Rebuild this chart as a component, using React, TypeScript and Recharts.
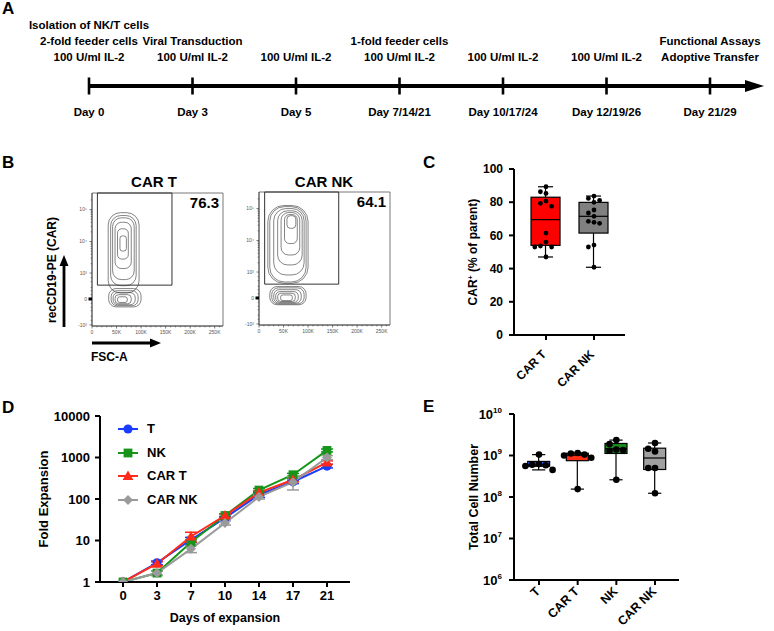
import React from "react";
import {
  ComposedChart,
  LineChart,
  Line,
  Bar,
  Scatter,
  XAxis,
  YAxis,
  ReferenceArea,
  ErrorBar,
  Legend,
  Label,
} from "recharts";

const FONT = '"Liberation Sans", Arial, Helvetica, sans-serif';
const AX = { stroke: "#000", strokeWidth: 2 };

// ---------- A: timeline ----------
const TIMELINE_DAYS = ["Day 0", "Day 3", "Day 5", "Day 7/14/21", "Day 10/17/24", "Day 12/19/26", "Day 21/29"];
const TIMELINE_NOTES = [
  ["Isolation of NK/T cells", "2-fold feeder cells", "100 U/ml IL-2"],
  ["Viral Transduction", "100 U/ml IL-2"],
  ["100 U/ml IL-2"],
  ["1-fold feeder cells", "100 U/ml IL-2"],
  ["100 U/ml IL-2"],
  ["100 U/ml IL-2"],
  ["Functional Assays", "Adoptive Transfer"],
];

// ---------- B: flow plots ----------
const FLOW_TITLES = ["CAR T", "CAR NK"];
const FLOW_PERCENT = ["76.3", "64.1"];
// fsc low, fsc high, PE low (gate runs to the top of the plot)
const FLOW_GATES = [
  [11000, 163000, 370],
  [11500, 162500, 370],
];
// contour levels: fsc low, fsc high, PE low, PE high
const CART_CONTOURS = [
  [33000, 96000, 140, 80000],
  [38000, 90000, 350, 65000],
  [42000, 86000, 600, 55000],
  [47000, 80000, 1400, 40000],
  [52000, 74000, 2800, 25000],
  [57000, 70000, 5000, 15000],
  [34000, 100000, -190, 260],
  [39000, 94000, -160, 200],
  [43000, 88000, -135, 150],
  [47000, 80000, -110, 100],
  [52000, 72000, -80, 50],
];
const CARNK_CONTOURS = [
  [18000, 100000, 400, 125000],
  [22000, 96000, 450, 115000],
  [30000, 92000, 800, 100000],
  [38000, 88000, 1700, 85000],
  [45000, 83000, 3500, 75000],
  [52000, 78000, 8000, 65000],
  [57000, 75000, 24000, 60000],
  [22000, 96000, -160, 290],
  [26000, 92000, -140, 250],
  [30000, 86000, -120, 200],
  [34000, 80000, -100, 150],
  [38000, 74000, -80, 110],
  [44000, 68000, -60, 70],
];
const FLOW_CONTOURS = [CART_CONTOURS, CARNK_CONTOURS];
const FSC_TICKS = [0, 50000, 100000, 150000, 200000, 250000];
const FSC_LABELS = ["0", "50K", "100K", "150K", "200K", "250K"];
const PE_TICKS = [-1000, 0, 1000, 10000, 100000];
const PE_LABELS = ["-10³", "0", "10³", "10⁴", "10⁵"];
const PE_MINOR = [-700, -500, -300, -200, -100, 100, 200, 300, 500, 700,
  2000, 3000, 4000, 5000, 6000, 7000, 8000, 9000,
  20000, 30000, 40000, 50000, 60000, 70000, 80000, 90000, 200000];
const FSC_DOMAIN = [0, 267000];
const PE_DOMAIN = [-1.95, 7.65];
const biex = (v: number) => Math.asinh(v / 315);

// ---------- C: CAR+ percentage ----------
const C_GROUPS = ["CAR T", "CAR NK"];
const C_COLORS = ["#ff0000", "#808080"];
const C_CART = [89.3, 86.3, 85.3, 80.7, 79.3, 77.5, 61.4, 56.0, 53.6, 53.0, 53.0, 47.0];
const C_CARNK = [83.7, 82.3, 81.1, 79.9, 75.3, 73.5, 71.5, 68.5, 67.9, 67.3, 54.2, 53.0, 40.8];
const C_MIN = [47.0, 40.8];
const C_Q1 = [54.0, 61.4];
const C_MEDIAN = [69.5, 71.5];
const C_Q3 = [83.0, 79.9];
const C_MAX = [89.3, 83.7];
const C_Y_TICKS = [0, 20, 40, 60, 80, 100];

// ---------- D: fold expansion ----------
const D_DAYS = ["0", "3", "7", "10", "14", "17", "21"];
const D_T = [1, 2.9, 10.4, 35, 127, 260, 620];
const D_NK = [1, 1.64, 9.1, 40, 164, 384, 1480];
const D_CART = [1, 2.76, 12.5, 40, 142, 290, 760];
const D_CARNK = [1, 1.64, 6.3, 26.5, 112, 255, 1000];
const D_T_ERR = [0, 0.3, 1.5, 3, 18, 25, 60];
const D_NK_ERR = [0, 0.2, 1.2, 4, 15, 30, 120];
const D_CART_ERR = [0, 0.3, 3.3, 4, 15, 30, 70];
const D_CARNK_ERR = [0, 0.2, 1.2, 3, 12, 90, 110];
const D_Y_TICKS = [1, 10, 100, 1000, 10000];
const D_SERIES = [
  { key: "T", errKey: "tErr", name: "T", color: "#1a3cff", marker: "circle", values: D_T, err: D_T_ERR },
  { key: "NK", errKey: "nkErr", name: "NK", color: "#16951a", marker: "square", values: D_NK, err: D_NK_ERR },
  { key: "CART", errKey: "cartErr", name: "CAR T", color: "#ff2a1a", marker: "triangle", values: D_CART, err: D_CART_ERR },
  { key: "CARNK", errKey: "carnkErr", name: "CAR NK", color: "#9a9a9a", marker: "diamond", values: D_CARNK, err: D_CARNK_ERR },
];

// ---------- E: total cell number ----------
const E_GROUPS = ["T", "CAR T", "NK", "CAR NK"];
const E_COLORS = ["#1f5bff", "#ff2e12", "#1a8c1a", "#a0a0a0"];
const E_T = [1.05e9, 6.2e8, 6.0e8, 5.8e8, 5.6e8, 4.5e8];
const E_CART = [1.15e9, 1.12e9, 1.05e9, 1.0e9, 8.8e8, 1.55e8];
const E_NK = [2.35e9, 1.9e9, 1.4e9, 1.35e9, 1.3e9, 2.6e8];
const E_CARNK = [2.0e9, 1.45e9, 1.25e9, 5.0e8, 5.0e8, 1.23e8];
const E_MIN = [4.5e8, 1.55e8, 2.6e8, 1.23e8];
const E_Q1 = [5.5e8, 7.5e8, 1.12e9, 4.6e8];
const E_MEDIAN = [5.9e8, 1.02e9, 1.45e9, 8.7e8];
const E_Q3 = [7.2e8, 1.13e9, 1.95e9, 1.5e9];
const E_MAX = [1.05e9, 1.15e9, 2.35e9, 2.0e9];
const E_Y_TICKS = [1e6, 1e7, 1e8, 1e9, 1e10];

// spread dots sideways so they do not overlap (prism-like)
function swarm(values: number[], toPx: (v: number) => number, step: number) {
  const placed: { x: number; y: number }[] = [];
  return values.map((v) => {
    const y = toPx(v);
    for (const c of [0, -1, 1, -2, 2, -3, 3, -4, 4]) {
      const x = c * step;
      if (placed.every((p) => Math.hypot(p.x - x, p.y - y) >= step)) {
        placed.push({ x, y });
        return x;
      }
    }
    return 0;
  });
}

function makeBoxShape(log: boolean, capFrac: number) {
  return (p: any) => {
    const { x, y, width, height, payload } = p;
    const f = log ? Math.log10 : (v: number) => v;
    const k = height / (f(payload.q3) - f(payload.q1));
    const py = (v: number) => y + (f(payload.q3) - f(v)) * k;
    const cx = x + width / 2;
    const cw = (width * capFrac) / 2;
    const yMax = py(payload.max);
    const yMin = py(payload.min);
    const yMed = py(payload.median);
    const s = { stroke: "#000", strokeWidth: 1.2 };
    return (
      <g>
        <line x1={cx} x2={cx} y1={yMax} y2={y} {...s} />
        <line x1={cx} x2={cx} y1={y + height} y2={yMin} {...s} />
        <line x1={cx - cw} x2={cx + cw} y1={yMax} y2={yMax} {...s} />
        <line x1={cx - cw} x2={cx + cw} y1={yMin} y2={yMin} {...s} />
        <rect x={x} y={y} width={width} height={height} fill={payload.fill} {...s} />
        <line x1={x} x2={x + width} y1={yMed} y2={yMed} {...s} />
      </g>
    );
  };
}

const dotShape = (r: number) => (p: any) => (
  <circle cx={p.cx + (p.payload.dx || 0)} cy={p.cy} r={r} fill="#000" />
);

const rotatedTick = (labels: string[], dx: number, dy: number, fs: number) => (p: any) => {
  const ax = p.x + dx;
  const ay = p.y + dy;
  return (
    <text x={ax} y={ay} transform={`rotate(-45 ${ax} ${ay})`} textAnchor="end" fontSize={fs} fill="#000">
      {labels[Math.round(p.payload.value) - 1]}
    </text>
  );
};

function Marker({ kind, cx, cy, color }: { kind: string; cx: number; cy: number; color: string }) {
  if (kind === "circle") return <circle cx={cx} cy={cy} r={4.6} fill={color} />;
  if (kind === "square") return <rect x={cx - 4.4} y={cy - 4.4} width={8.8} height={8.8} fill={color} />;
  if (kind === "triangle")
    return <polygon points={`${cx},${cy - 5.6} ${cx + 5.4},${cy + 4} ${cx - 5.4},${cy + 4}`} fill={color} />;
  return <polygon points={`${cx},${cy - 5} ${cx + 5},${cy} ${cx},${cy + 5} ${cx - 5},${cy}`} fill={color} />;
}

function Letter({ ch, left, top }: { ch: string; left: number; top: number }) {
  return (
    <div style={{ position: "absolute", left, top, fontSize: 17, lineHeight: "20px" }}>{ch}</div>
  );
}

// ---------- panel A ----------
function TimelinePanel() {
  const data = TIMELINE_DAYS.map((day) => ({ day }));
  const tick = (p: any) => {
    const i = TIMELINE_DAYS.indexOf(p.payload.value);
    const notes = TIMELINE_NOTES[i] || [];
    const y = 86;
    return (
      <g>
        <line x1={p.x} x2={p.x} y1={y - 8.5} y2={y + 8.5} stroke="#000" strokeWidth={2.6} />
        <text x={p.x} y={y + 30} textAnchor="middle" fontSize={11.5} fill="#000">{p.payload.value}</text>
        {notes.map((n, j) => (
          <text key={j} x={p.x} y={y - 25 - (notes.length - 1 - j) * 16} textAnchor="middle" fontSize={11.5} fill="#000">
            {n}
          </text>
        ))}
      </g>
    );
  };
  return (
    <div style={{ position: "absolute", left: 0, top: 0 }}>
      <ComposedChart width={774} height={125} data={data} margin={{ top: 0, right: 19, bottom: 0, left: 89 }}>
        <XAxis
          dataKey="day"
          type="category"
          height={39}
          padding={{ left: 0, right: 45 }}
          axisLine={{ stroke: "#000", strokeWidth: 4 }}
          tickLine={false}
          tickSize={0}
          tickMargin={0}
          interval={0}
          tick={tick}
        >
          <Label
            content={(p: any) => {
              const vb = p.viewBox;
              const ex = vb.x + vb.width;
              return <polygon points={`${ex - 10},${vb.y - 6} ${ex + 9},${vb.y} ${ex - 10},${vb.y + 6}`} fill="#000" />;
            }}
          />
        </XAxis>
        <YAxis hide domain={[0, 1]} />
      </ComposedChart>
    </div>
  );
}

// ---------- panel B ----------
function FlowPlot({ idx, left, top }: { idx: number; left: number; top: number }) {
  const [gx1, gx2, gy1] = FLOW_GATES[idx];
  const yTicks = [...PE_TICKS, ...PE_MINOR].map(biex);
  const xTicks: number[] = [];
  for (let v = 0; v <= 260000; v += 10000) xTicks.push(v);
  const xTick = (p: any) => {
    const i = FSC_TICKS.indexOf(p.payload.value);
    return (
      <g>
        <line x1={p.x} x2={p.x} y1={p.y} y2={p.y + (i >= 0 ? 2.5 : 1.3)} stroke="#444" strokeWidth={0.7} />
        {i >= 0 && (
          <text x={p.x} y={p.y + 8} textAnchor="middle" fontSize={5} fontWeight={400} fill="#555">
            {FSC_LABELS[i]}
          </text>
        )}
      </g>
    );
  };
  const yTick = (p: any) => {
    const i = PE_TICKS.findIndex((t) => Math.abs(biex(t) - p.payload.value) < 1e-6);
    const zero = i >= 0 && PE_TICKS[i] === 0;
    return (
      <g>
        <line
          x1={p.x - (zero ? 3.5 : i >= 0 ? 2.5 : 1.3)}
          x2={p.x}
          y1={p.y}
          y2={p.y}
          stroke={zero ? "#000" : "#444"}
          strokeWidth={zero ? 3 : 0.7}
        />
        {i >= 0 && (
          <text x={p.x - 5} y={p.y} dy={1.8} textAnchor="end" fontSize={5} fontWeight={400} fill="#555">
            {PE_LABELS[i]}
          </text>
        )}
      </g>
    );
  };
  return (
    <div style={{ position: "absolute", left, top }}>
      <ComposedChart width={158} height={151} margin={{ top: 5, right: 5, bottom: 0, left: 0 }}>
        <XAxis
          type="number"
          dataKey="fsc"
          domain={FSC_DOMAIN}
          ticks={xTicks}
          allowDataOverflow
          height={13}
          interval={0}
          tickSize={0}
          tickMargin={0}
          tickLine={false}
          axisLine={{ stroke: "#444", strokeWidth: 0.8 }}
          tick={xTick}
        />
        <YAxis
          type="number"
          dataKey="pe"
          domain={PE_DOMAIN}
          ticks={yTicks}
          allowDataOverflow
          width={22}
          interval={0}
          tickSize={0}
          tickMargin={0}
          tickLine={false}
          axisLine={{ stroke: "#444", strokeWidth: 0.8 }}
          tick={yTick}
        />
        <ReferenceArea
          x1={FSC_DOMAIN[0]}
          x2={FSC_DOMAIN[1]}
          y1={PE_DOMAIN[0]}
          y2={PE_DOMAIN[1]}
          fill="none"
          stroke="#555"
          strokeWidth={0.8}
          fillOpacity={0}
          label={{ value: FLOW_PERCENT[idx], position: "insideTopRight", offset: 4, fontSize: 15, fill: "#000", fontWeight: 700 }}
        />
        {FLOW_CONTOURS[idx].map((c, i) => (
          <ReferenceArea
            key={i}
            x1={c[0]}
            x2={c[1]}
            y1={biex(c[2])}
            y2={biex(c[3])}
            shape={(p: any) => (
              <rect
                x={p.x}
                y={p.y}
                width={p.width}
                height={p.height}
                rx={Math.min(p.width, p.height) * 0.4}
                fill="none"
                stroke="#333"
                strokeWidth={0.6}
              />
            )}
          />
        ))}
        <ReferenceArea x1={gx1} x2={gx2} y1={biex(gy1)} y2={PE_DOMAIN[1]} fill="none" fillOpacity={0} stroke="#333" strokeWidth={1} />
      </ComposedChart>
    </div>
  );
}

function FlowPanel() {
  return (
    <>
      <FlowPlot idx={0} left={70} top={188} />
      <FlowPlot idx={1} left={237} top={187} />
      {FLOW_TITLES.map((t, i) => (
        <div
          key={t}
          style={{ position: "absolute", left: i === 0 ? 104 : 274, top: 173, width: 100, textAlign: "center", fontSize: 15, lineHeight: "18px" }}
        >
          {t}
        </div>
      ))}
      <div style={{ position: "absolute", left: 91, top: 350, fontSize: 12, lineHeight: "14px" }}>FSC-A</div>
      <svg style={{ position: "absolute", left: 0, top: 0 }} width={774} height={631}>
        <text x={56} y={270} transform="rotate(-90 56 270)" textAnchor="middle" fontSize={12} fill="#000">
          recCD19-PE (CAR)
        </text>
        <line x1={64} x2={64} y1={327} y2={264} stroke="#000" strokeWidth={2.8} />
        <polygon points="59.5,266 64,255 68.5,266" fill="#000" />
        <line x1={92} x2={152} y1={343} y2={343} stroke="#000" strokeWidth={2.8} />
        <polygon points="150,338.5 161,343 150,347.5" fill="#000" />
      </svg>
    </>
  );
}

// ---------- panel C ----------
function CarPercentPanel() {
  const rows = C_GROUPS.map((g, i) => ({
    pos: i + 1,
    box: [C_Q1[i], C_Q3[i]],
    q1: C_Q1[i],
    q3: C_Q3[i],
    min: C_MIN[i],
    max: C_MAX[i],
    median: C_MEDIAN[i],
    fill: C_COLORS[i],
  }));
  const groups = [C_CART, C_CARNK];
  return (
    <div style={{ position: "absolute", left: 450, top: 159 }}>
      <ComposedChart width={185} height={236} data={rows} margin={{ top: 10, right: 10, bottom: 0, left: 0 }}>
        <XAxis
          type="number"
          dataKey="pos"
          domain={[0.333, 2.646]}
          ticks={[1, 2]}
          allowDataOverflow
          height={60}
          interval={0}
          axisLine={AX}
          tickLine={AX}
          tickSize={5}
          tickMargin={0}
          tick={rotatedTick(C_GROUPS, 1, 15, 12)}
        />
        <YAxis
          type="number"
          dataKey="value"
          domain={[0, 100]}
          ticks={C_Y_TICKS}
          width={64}
          interval={0}
          axisLine={AX}
          tickLine={AX}
          tickSize={5}
          tickMargin={6}
          tick={{ fontSize: 12, fill: "#000" }}
        >
          <Label
            content={(p: any) => {
              const vb = p.viewBox;
              const x = vb.x + 27;
              const y = vb.y + vb.height / 2;
              return (
                <text x={x} y={y} transform={`rotate(-90 ${x} ${y})`} textAnchor="middle" fontSize={12} fill="#000">
                  CAR<tspan dy={-4} fontSize={7}>+</tspan>
                  <tspan dy={4}> (% of parent)</tspan>
                </text>
              );
            }}
          />
        </YAxis>
        <Bar dataKey="box" barSize={29} shape={makeBoxShape(false, 0.52)} isAnimationActive={false} />
        {groups.map((vals, gi) => {
          const dx = swarm(vals, (v) => v * 1.66, 5.6);
          return (
            <Scatter
              key={gi}
              data={vals.map((v, j) => ({ pos: gi + 1, value: v, dx: dx[j] }))}
              shape={dotShape(2.4)}
              isAnimationActive={false}
            />
          );
        })}
      </ComposedChart>
    </div>
  );
}

// ---------- panel D ----------
function ExpansionPanel() {
  const data = D_DAYS.map((day, i) => {
    const row: any = { day };
    D_SERIES.forEach((s) => {
      row[s.key] = s.values[i];
      row[s.errKey] = s.err[i];
    });
    return row;
  });
  const legend = (p: any) => {
    const names = (p.payload || []).map((item: any) => item.value);
    return (
      <div>
        {D_SERIES.filter((s) => names.includes(s.name)).map((s) => (
          <div key={s.key} style={{ display: "flex", alignItems: "center", height: 23.7 }}>
            <svg width={20} height={14}>
              <line x1={0} x2={20} y1={7} y2={7} stroke={s.color} strokeWidth={2} />
              <Marker kind={s.marker} cx={10} cy={7} color={s.color} />
            </svg>
            <span style={{ marginLeft: 9, fontSize: 13, lineHeight: "14px" }}>{s.name}</span>
          </div>
        ))}
      </div>
    );
  };
  return (
    <div style={{ position: "absolute", left: 30, top: 405 }}>
      <LineChart width={340} height={222} data={data} margin={{ top: 11, right: 20, bottom: 0, left: 0 }}>
        <XAxis
          dataKey="day"
          padding={{ left: 23, right: 23 }}
          height={45}
          interval={0}
          axisLine={AX}
          tickLine={AX}
          tickSize={5}
          tickMargin={4}
          tick={{ fontSize: 13, fill: "#000" }}
        >
          <Label
            content={(p: any) => {
              const vb = p.viewBox;
              return (
                <text x={vb.x + vb.width / 2} y={vb.y + 39.5} textAnchor="middle" fontSize={12.5} fill="#000">
                  Days of expansion
                </text>
              );
            }}
          />
        </XAxis>
        <YAxis
          scale="log"
          domain={[1, 10000]}
          ticks={D_Y_TICKS}
          allowDataOverflow
          width={70}
          interval={0}
          axisLine={AX}
          tickLine={AX}
          tickSize={5}
          tickMargin={5}
          tick={{ fontSize: 13, fill: "#000" }}
        >
          <Label
            content={(p: any) => {
              const vb = p.viewBox;
              const x = vb.x + 17.5;
              const y = vb.y + vb.height / 2;
              return (
                <text x={x} y={y} transform={`rotate(-90 ${x} ${y})`} textAnchor="middle" fontSize={13} fill="#000">
                  Fold Expansion
                </text>
              );
            }}
          />
        </YAxis>
        {D_SERIES.map((s) => (
          <Line
            key={s.key}
            dataKey={s.key}
            name={s.name}
            stroke={s.color}
            strokeWidth={2}
            isAnimationActive={false}
            activeDot={false}
            dot={(p: any) => <Marker key={`${s.key}-${p.index}`} kind={s.marker} cx={p.cx} cy={p.cy} color={s.color} />}
          >
            <ErrorBar dataKey={s.errKey} width={6} strokeWidth={1.5} stroke={s.color} direction="y" />
          </Line>
        ))}
        <Legend
          layout="vertical"
          align="center"
          verticalAlign="middle"
          wrapperStyle={{ left: 88, top: 12, width: 120 }}
          content={legend}
        />
      </LineChart>
    </div>
  );
}

// ---------- panel E ----------
function CellNumberPanel() {
  const rows = E_GROUPS.map((g, i) => ({
    pos: i + 1,
    box: [E_Q1[i], E_Q3[i]],
    q1: E_Q1[i],
    q3: E_Q3[i],
    min: E_MIN[i],
    max: E_MAX[i],
    median: E_MEDIAN[i],
    fill: E_COLORS[i],
  }));
  const groups = [E_T, E_CART, E_NK, E_CARNK];
  const powTick = (p: any) => {
    const exp = Math.round(Math.log10(p.payload.value));
    return (
      <text x={p.x} y={p.y} dy={4.5} textAnchor="end" fontSize={13} fill="#000">
        10<tspan dy={-6} fontSize={8}>{exp}</tspan>
      </text>
    );
  };
  return (
    <div style={{ position: "absolute", left: 450, top: 404 }}>
      <ComposedChart width={239} height={227} data={rows} margin={{ top: 10, right: 10, bottom: 0, left: 0 }}>
        <XAxis
          type="number"
          dataKey="pos"
          domain={[0.354, 4.62]}
          ticks={[1, 2, 3, 4]}
          allowDataOverflow
          height={51}
          interval={0}
          axisLine={AX}
          tickLine={AX}
          tickSize={5}
          tickMargin={0}
          tick={rotatedTick(E_GROUPS, 2, 7, 12.5)}
        />
        <YAxis
          type="number"
          dataKey="value"
          scale="log"
          domain={[1e6, 1e10]}
          ticks={E_Y_TICKS}
          allowDataOverflow
          width={64}
          interval={0}
          axisLine={AX}
          tickLine={AX}
          tickSize={5}
          tickMargin={7}
          tick={powTick}
        >
          <Label
            content={(p: any) => {
              const vb = p.viewBox;
              const x = vb.x + 27.5;
              const y = vb.y + vb.height / 2;
              return (
                <text x={x} y={y} transform={`rotate(-90 ${x} ${y})`} textAnchor="middle" fontSize={12.5} fill="#000">
                  Total Cell Number
                </text>
              );
            }}
          />
        </YAxis>
        <Bar dataKey="box" barSize={22} shape={makeBoxShape(true, 0.6)} isAnimationActive={false} />
        {groups.map((vals, gi) => {
          const dx = swarm(vals, (v) => Math.log10(v) * 41.4, 6.8);
          return (
            <Scatter
              key={gi}
              data={vals.map((v, j) => ({ pos: gi + 1, value: v, dx: dx[j] }))}
              shape={dotShape(3.3)}
              isAnimationActive={false}
            />
          );
        })}
      </ComposedChart>
    </div>
  );
}

export default function App() {
  return (
    <div
      style={{
        position: "absolute",
        left: 0,
        top: 0,
        width: 774,
        height: 631,
        background: "#fff",
        fontFamily: FONT,
        fontWeight: 700,
        color: "#000",
        overflow: "hidden",
      }}
    >
      <TimelinePanel />
      <FlowPanel />
      <CarPercentPanel />
      <ExpansionPanel />
      <CellNumberPanel />
      <Letter ch="A" left={2} top={-1} />
      <Letter ch="B" left={2} top={153} />
      <Letter ch="C" left={423} top={153} />
      <Letter ch="D" left={2} top={398} />
      <Letter ch="E" left={423} top={397} />
    </div>
  );
}
